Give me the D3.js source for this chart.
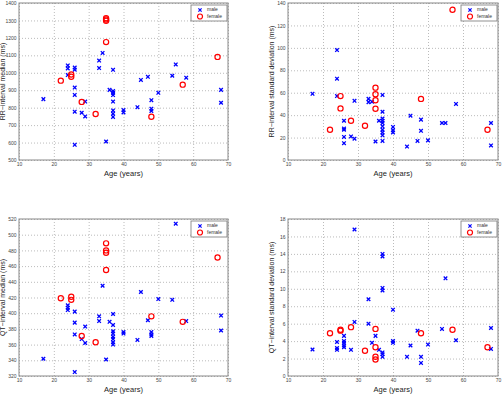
<!DOCTYPE html>
<html>
<head>
<meta charset="utf-8">
<script src="https://cdn.jsdelivr.net/npm/d3@7"></script>
<style>
  body { margin: 0; background: #fff; }
  svg { display: block; font-family: "Liberation Sans", Arial, sans-serif; }
</style>
</head>
<body>
<svg id="chart" width="504" height="405"></svg>
<script>
// [age, value] per subject
const rrMedianMale = [[17,849],[24,1042],[24,1025],[24,987],[26,1030],[26,1018],[26,915],[26,873],[26,777],[26,587],
  [28,771],[29,750],[29,835],[33,1070],[33,1027],[34,1114],[35,606],[36,902],[37,1017],[37,895],[37,885],[37,872],
  [37,835],[37,784],[37,765],[37,747],[40,786],[40,773],[44,803],[45,959],[47,977],[48,843],[48,794],[48,781],
  [50,885],[54,983],[55,1048],[58,972],[68,902],[68,828]];
const rrMedianFemale = [[22,955],[25,990],[25,977],[28,833],[32,764],[35,1313],[35,1305],[35,1298],[35,1176],
  [48,748],[57,932],[67,1091]];

const rrStdMale = [[17,59],[24,98],[24,72.5],[24,57],[26,35],[26,28],[26,27],[26,20.6],[26,15],[28,21],[29,52.8],
  [29,19],[33,54.5],[33,51.6],[34,52],[35,16.5],[36,35],[37,58],[37,43],[37,37],[37,35],[37,33],[37,30],[37,27],
  [37,24.5],[37,22],[37,17],[40,29.5],[40,26.5],[40,24.5],[44,12],[45,39.5],[47,17],[48,36],[48,26],[50,17.5],
  [54,33],[55,33],[58,50],[68,33],[68,13]];
const rrStdFemale = [[22,27],[25,57],[25,46],[28,35],[32,30.5],[35,64.5],[35,58.6],[35,53.3],[35,45.7],[48,54.5],
  [57,134],[67,27]];

const qtMedianMale = [[17,342],[24,410],[24,407],[24,404],[26,402],[26,388],[26,373],[26,325],[28,367],[29,383],
  [29,362],[33,396],[33,390],[34,435],[35,341],[36,389],[37,399],[37,385],[37,377],[37,374],[37,370],[37,367],
  [37,363],[37,360],[40,376],[40,374],[44,366],[45,427],[47,391],[48,376],[48,373],[48,371],[50,418],[54,417],
  [55,514],[58,390],[68,397],[68,378]];
const qtMedianFemale = [[22,419],[25,421],[25,417],[28,371],[32,363],[35,489],[35,480],[35,477],[35,455],[48,396],
  [57,389],[67,471]];

const qtStdMale = [[17,3.04],[24,3.9],[24,3.2],[24,3.0],[26,4.6],[26,4.0],[26,3.8],[26,3.5],[26,3.3],[28,3.0],
  [29,16.8],[29,6.2],[33,8.8],[33,6.0],[34,3.8],[35,4.6],[36,3.0],[37,14.0],[37,13.7],[37,10.1],[37,9.8],[37,2.7],
  [37,2.5],[37,2.2],[40,7.6],[40,4.0],[40,3.8],[44,2.2],[45,3.5],[47,5.2],[48,2.2],[48,1.5],[50,3.6],[54,5.4],
  [55,11.2],[58,4.1],[68,5.5],[68,3.1]];
const qtStdFemale = [[22,4.9],[25,5.3],[25,5.2],[28,5.6],[32,2.9],[35,5.4],[35,3.3],[35,2.2],[35,1.9],[48,4.9],
  [57,5.3],[67,3.3]];

const ageTicks = [10, 20, 30, 40, 50, 60, 70];
const rrMedianTicks = [500, 600, 700, 800, 900, 1000, 1100, 1200, 1300, 1400];
const rrStdTicks = [0, 20, 40, 60, 80, 100, 120, 140];
const qtMedianTicks = [320, 340, 360, 380, 400, 420, 440, 460, 480, 500, 520];
const qtStdTicks = [0, 2, 4, 6, 8, 10, 12, 14, 16, 18];
const legendLabels = ["male", "female"];

const panels = [
  { male: rrMedianMale, female: rrMedianFemale, yTicks: rrMedianTicks,
    ylabel: "RR\u2212interval median (ms)", x: 19, y: 3, w: 209, h: 157 },
  { male: rrStdMale, female: rrStdFemale, yTicks: rrStdTicks,
    ylabel: "RR\u2212interval standard deviation (ms)", x: 288, y: 3, w: 210, h: 157 },
  { male: qtMedianMale, female: qtMedianFemale, yTicks: qtMedianTicks,
    ylabel: "QT\u2212interval median (ms)", x: 19, y: 219, w: 209, h: 157 },
  { male: qtStdMale, female: qtStdFemale, yTicks: qtStdTicks,
    ylabel: "QT\u2212interval standard deviation (ms)", x: 288, y: 219, w: 210, h: 157 }
];

const svg = d3.select("#chart");
const blue = "#0000ff", red = "#ff0000";

const crossPath = s => `M${-s},${-s}L${s},${s}M${-s},${s}L${s},${-s}`;

panels.forEach(p => {
  const g = svg.append("g").attr("transform", `translate(${p.x},${p.y})`);
  const x = d3.scaleLinear().domain([10, 70]).range([0, p.w]);
  const y = d3.scaleLinear().domain(d3.extent(p.yTicks)).range([p.h, 0]);

  // grid
  const xg = g.append("g").attr("transform", `translate(0,${p.h})`)
    .call(d3.axisBottom(x).tickValues(ageTicks).tickSize(-p.h).tickFormat(""));
  const yg = g.append("g")
    .call(d3.axisLeft(y).tickValues(p.yTicks).tickSize(-p.w).tickFormat(""));
  [xg, yg].forEach(a => {
    a.select(".domain").remove();
    a.selectAll("line").attr("stroke", "#aaa").attr("stroke-width", 0.8)
      .attr("stroke-dasharray", "1,2");
  });

  // tick labels
  const xa = g.append("g").attr("transform", `translate(0,${p.h})`)
    .call(d3.axisBottom(x).tickValues(ageTicks).tickSize(0).tickPadding(2).tickFormat(d3.format("d")));
  const ya = g.append("g")
    .call(d3.axisLeft(y).tickValues(p.yTicks).tickSize(0).tickPadding(2.5).tickFormat(d3.format("d")));
  [xa, ya].forEach(a => {
    a.select(".domain").remove();
    a.selectAll("text").attr("font-size", 5).attr("fill", "#444")
      .attr("font-family", "Liberation Sans, Arial, sans-serif");
  });

  // frame
  g.append("rect").attr("width", p.w).attr("height", p.h)
    .attr("fill", "none").attr("stroke", "#888").attr("stroke-width", 1);

  // points
  g.append("g").selectAll("path").data(p.male).enter().append("path")
    .attr("transform", d => `translate(${x(d[0])},${y(d[1])})`)
    .attr("d", crossPath(1.8))
    .attr("stroke", blue).attr("stroke-width", 1.3).attr("fill", "none");

  g.append("g").selectAll("circle").data(p.female).enter().append("circle")
    .attr("cx", d => x(d[0])).attr("cy", d => y(d[1])).attr("r", 2.6)
    .attr("stroke", red).attr("stroke-width", 1.2).attr("fill", "none");

  // axis labels
  g.append("text").attr("x", p.w / 2).attr("y", p.h + 15.5)
    .attr("text-anchor", "middle")
    .attr("font-size", 7.5).attr("fill", "#222").text("Age (years)");
  g.append("text")
    .attr("transform", `translate(-16,${p.h / 2}) rotate(-90)`)
    .attr("text-anchor", "middle").attr("dominant-baseline", "middle")
    .attr("font-size", 7).attr("fill", "#222").text(p.ylabel);

  // legend
  const lg = g.append("g").attr("transform", `translate(${p.w - 37},2)`);
  lg.append("rect").attr("width", 36).attr("height", 16)
    .attr("fill", "#fff").attr("stroke", "#777").attr("stroke-width", 0.8);
  legendLabels.forEach((name, i) => {
    const row = lg.append("g").attr("transform", `translate(0,${5 + i * 6.5})`);
    if (i === 0) {
      row.append("path").attr("transform", "translate(9,0)").attr("d", crossPath(1.6))
        .attr("stroke", blue).attr("stroke-width", 1.2);
    } else {
      row.append("circle").attr("cx", 9).attr("cy", 0).attr("r", 2.5)
        .attr("stroke", red).attr("stroke-width", 1.2).attr("fill", "none");
    }
    row.append("text").attr("x", 16).attr("y", 0).attr("dominant-baseline", "middle")
      .attr("font-size", 5).attr("fill", "#333").text(name);
  });
});
</script>
</body>
</html>
